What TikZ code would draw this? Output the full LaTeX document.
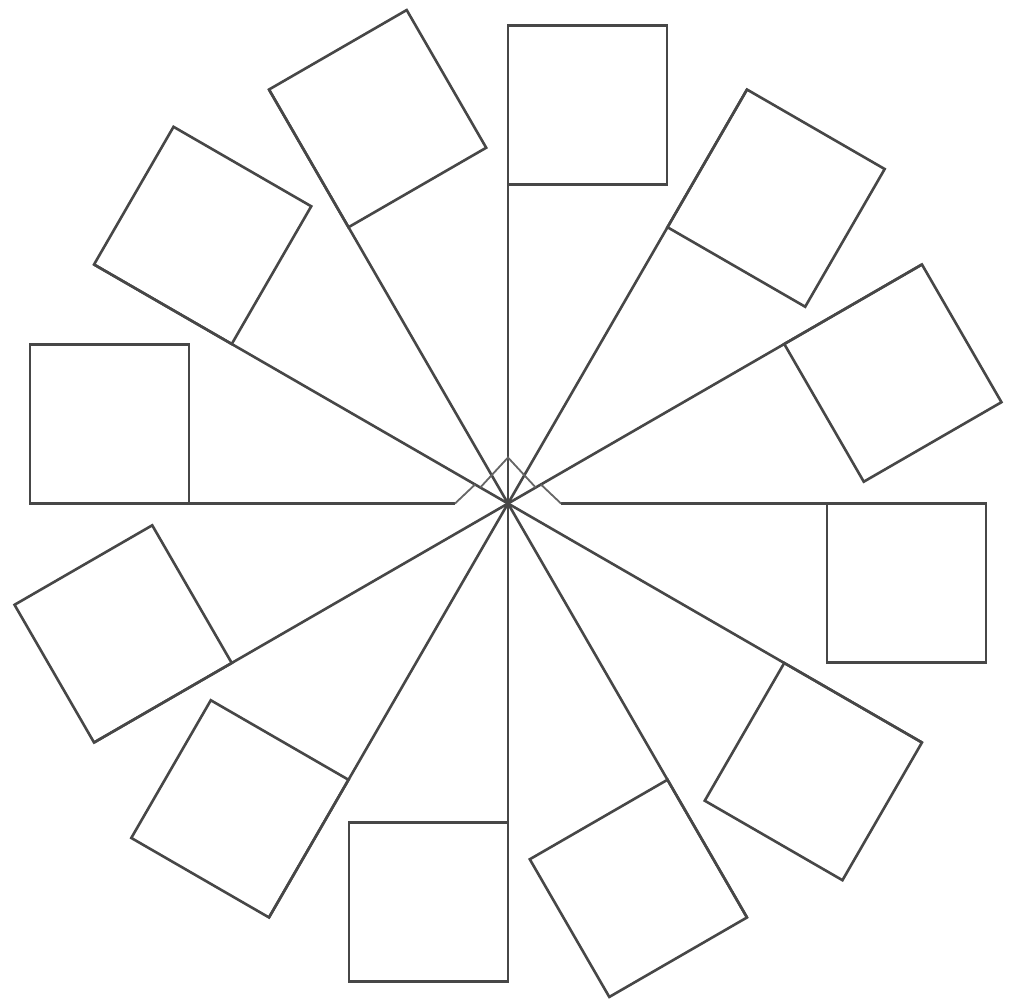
\documentclass[tikz,border=0pt]{standalone}
\begin{document}
\begin{tikzpicture}[x=0.5pt,y=0.5pt]
			\tikzset{flag/.style={draw=black!72,line width=1.3pt,line join=miter},
				kink/.style={draw=black!60,line width=0.9pt}}
			\useasboundingbox (-508,-498.5) rectangle (516,503.5);
			
			% twelve flags, one every 30 degrees
			\foreach \a/\s in {0/53,30/0,60/0,90/0,120/0,150/0,180/53,210/0,240/0,270/0,300/0,330/0}{
				\begin{scope}[rotate=\a]
				\coordinate (foot-\a) at (\s,0);
				\coordinate (tip-\a) at (478,0);
				\draw[flag] (foot-\a) -- (tip-\a);
				\draw[flag] (319,0) rectangle (478,-159);
				\end{scope}
			}
			
			% little kinks round the hub
			\draw[kink] (180:53) -- (150:38);
			\draw[kink] (150:32) -- (90:46) -- (30:32);
			\draw[kink] (30:38) -- (0:53);
\end{tikzpicture}
\end{document}
